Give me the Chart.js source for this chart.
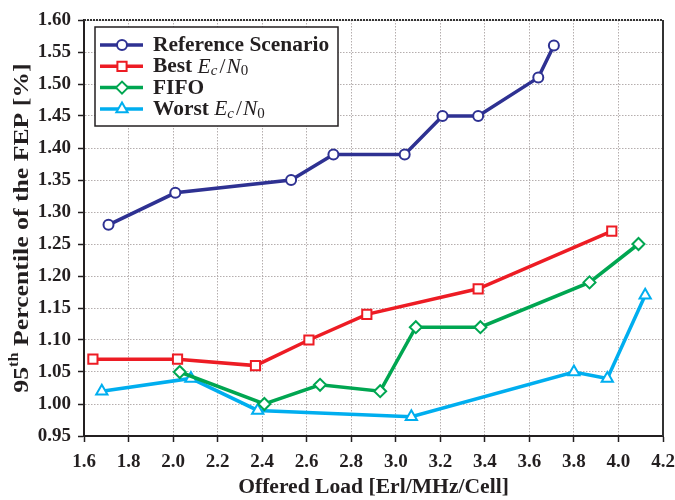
<!DOCTYPE html>
<html>
<head>
<meta charset="utf-8">
<script src="https://cdn.jsdelivr.net/npm/chart.js@4.4.0/dist/chart.umd.min.js"></script>
<style>
  body { margin: 0; background: #fff; }
  #wrap { width: 675px; height: 500px; }
</style>
</head>
<body>
<div id="wrap"><canvas id="chart" width="675" height="500"></canvas></div>
<script>
// values
var refX = [1.71, 2.01, 2.53, 2.72, 3.04, 3.21, 3.37, 3.64, 3.71];
var refY = [1.28, 1.33, 1.35, 1.39, 1.39, 1.45, 1.45, 1.51, 1.56];
var bestX = [1.64, 2.02, 2.37, 2.61, 2.87, 3.37, 3.97];
var bestY = [1.07, 1.07, 1.06, 1.10, 1.14, 1.18, 1.27];
var fifoX = [2.03, 2.41, 2.66, 2.93, 3.09, 3.38, 3.87, 4.09];
var fifoY = [1.05, 1.00, 1.03, 1.02, 1.12, 1.12, 1.19, 1.25];
var worstX = [1.68, 2.08, 2.38, 3.07, 3.80, 3.95, 4.12];
var worstY = [1.02, 1.04, 0.99, 0.98, 1.05, 1.04, 1.17];

var seriesNames = ['Reference Scenario', 'Best Ec/N0', 'FIFO', 'Worst Ec/N0'];
var xTitle = 'Offered Load [Erl/MHz/Cell]';

var serif = '"Liberation Serif", "Times New Roman", serif';
var ink = '#231f20';

function pts(xs, ys) {
    return xs.map(function (x, i) { return { x: x, y: ys[i] }; });
}

function series(label, xs, ys, color, style, r) {
    return {
        label: label,
        data: pts(xs, ys),
        borderColor: color,
        backgroundColor: '#fff',
        borderWidth: 3.5,
        pointStyle: style,
        pointRadius: r,
        pointBorderWidth: 2,
        pointBackgroundColor: '#fff',
        pointBorderColor: color,
        tension: 0
    };
}

const data = {
    datasets: [
        series(seriesNames[0], refX, refY, '#2e3192', 'circle', 5),
        series(seriesNames[1], bestX, bestY, '#ed1c24', 'rect', 6.5),
        series(seriesNames[2], fifoX, fifoY, '#00a651', 'rectRot', 6),
        series(seriesNames[3], worstX, worstY, '#00aeef', 'triangle', 6.5)
    ]
};

// draws a run of text pieces with their own fonts
function drawRuns(ctx, runs, x, y) {
    runs.forEach(function (r) {
        ctx.font = r.font;
        ctx.fillText(r.t, x, y + (r.dy || 0));
        x += ctx.measureText(r.t).width + (r.gap || 0);
    });
    return x;
}
function runsWidth(ctx, runs) {
    var w = 0;
    runs.forEach(function (r) { ctx.font = r.font; w += ctx.measureText(r.t).width + (r.gap || 0); });
    return w;
}

var B = 'bold 20px ' + serif;
var I = 'italic 20px ' + serif;
var IS = 'italic 14px ' + serif;
var S = '14px ' + serif;
function ecn0(word) {
    return [{ t: word + ' ', font: B }, { t: 'E', font: I }, { t: 'c', font: IS, dy: 4, gap: 2 },
            { t: '/', font: '20px ' + serif, gap: 1 }, { t: 'N', font: I }, { t: '0', font: S, dy: 4 }];
}
var legendRuns = [
    [{ t: seriesNames[0], font: B }],
    ecn0('Best'),
    [{ t: seriesNames[2], font: B }],
    ecn0('Worst')
];

const decor = {
    id: 'decor',
    afterDraw: function (chart) {
        const ctx = chart.ctx;
        const a = chart.chartArea;
        ctx.save();

        // top and right frame
        ctx.strokeStyle = '#333';
        ctx.lineWidth = 2;
        ctx.beginPath();
        ctx.moveTo(a.right, a.top);
        ctx.lineTo(a.right, a.bottom);
        ctx.stroke();
        ctx.setLineDash([2, 1]);
        ctx.beginPath();
        ctx.moveTo(a.left, a.top);
        ctx.lineTo(a.right, a.top);
        ctx.stroke();
        ctx.setLineDash([]);

        ctx.fillStyle = ink;
        ctx.textBaseline = 'middle';

        // x title (slightly widened like the reference)
        ctx.font = 'bold 20px ' + serif;
        ctx.textAlign = 'center';
        ctx.save();
        ctx.translate((a.left + a.right) / 2, 488);
        ctx.scale(1.08, 1);
        ctx.fillText(xTitle, 0, 0);
        ctx.restore();

        // y title with superscript
        ctx.textAlign = 'left';
        var yRuns = [{ t: '95', font: 'bold 22px ' + serif },
                     { t: 'th', font: 'bold 14px ' + serif, dy: -8 },
                     { t: ' Percentile of the FEP [%]', font: 'bold 22px ' + serif }];
        ctx.save();
        ctx.translate(22, 228);
        ctx.rotate(-Math.PI / 2);
        ctx.scale(1.17, 1);
        drawRuns(ctx, yRuns, -runsWidth(ctx, yRuns) / 2, 0);
        ctx.restore();

        // legend box
        var bx = 95, by = 27, bw = 243, bh = 99;
        ctx.fillStyle = '#fff';
        ctx.fillRect(bx, by, bw, bh);
        ctx.strokeStyle = '#231f20';
        ctx.lineWidth = 1.5;
        ctx.strokeRect(bx, by, bw, bh);
        chart.data.datasets.forEach(function (ds, i) {
            var y = by + 18 + i * 21.3;
            ctx.strokeStyle = ds.borderColor;
            ctx.lineWidth = 3.5;
            ctx.beginPath();
            ctx.moveTo(bx + 5, y);
            ctx.lineTo(bx + 48, y);
            ctx.stroke();
            ctx.fillStyle = '#fff';
            ctx.lineWidth = 2;
            Chart.helpers.drawPoint(ctx, { pointStyle: ds.pointStyle, radius: ds.pointRadius, rotation: 0, borderWidth: 2 }, bx + 27, y);
            ctx.fillStyle = ink;
            ctx.save();
            ctx.translate(bx + 58, y + 1);
            ctx.scale(1.07, 1);
            drawRuns(ctx, legendRuns[i], 0, 0);
            ctx.restore();
        });

        ctx.restore();
    }
};

const options = {
    responsive: false,
    animation: false,
    layout: { padding: { top: 20, right: 12, left: 0, bottom: 0 } },
    plugins: {
        legend: { display: false },
        tooltip: { enabled: false }
    },
    scales: {
        x: {
            type: 'linear',
            min: 1.6,
            max: 4.2,
            afterFit: function (s) {
                s.height = 64;
                s.paddingLeft = 0;
                s.paddingRight = 0;
            },
            ticks: {
                stepSize: 0.2,
                padding: 9,
                color: ink,
                font: { family: serif, size: 19, weight: 'bold' },
                callback: function (v) { return v.toFixed(1); }
            },
            grid: { color: '#b5aeae', tickColor: '#231f20', tickLength: 6, tickWidth: 1.5 },
            border: { color: '#231f20', width: 2, dash: [1.5, 1.5] }
        },
        y: {
            min: 0.95,
            max: 1.6,
            afterFit: function (s) { s.width = 84; },
            ticks: {
                stepSize: 0.05,
                padding: 7,
                color: ink,
                font: { family: serif, size: 19, weight: 'bold' },
                callback: function (v) { return v.toFixed(2); }
            },
            grid: { color: '#b5aeae', tickColor: '#231f20', tickLength: 6, tickWidth: 1.5 },
            border: { color: '#231f20', width: 2, dash: [1.5, 1.5] }
        }
    }
};

const ctx = document.getElementById('chart').getContext('2d');
const myChart = new Chart(ctx, {
    type: 'line',
    data: data,
    options: options,
    plugins: [decor]
});
</script>
</body>
</html>
